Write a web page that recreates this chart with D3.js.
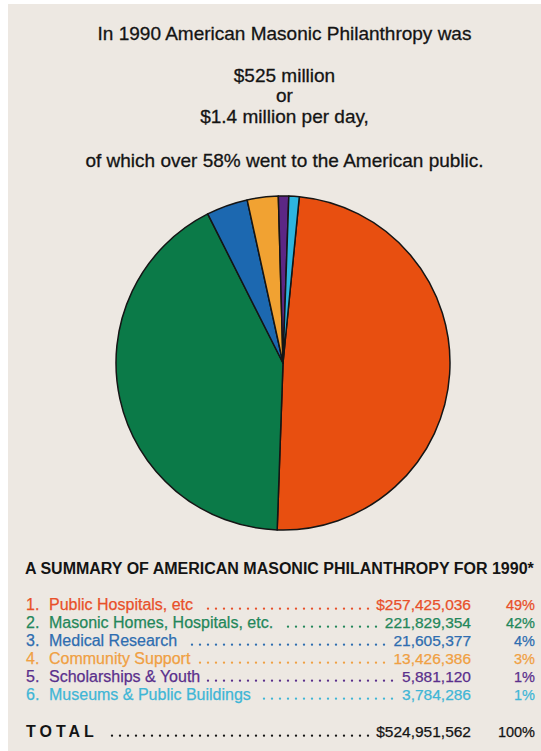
<!DOCTYPE html>
<html>
<head>
<meta charset="utf-8">
<script src="https://cdn.jsdelivr.net/npm/d3@7"></script>
<style>
  html, body { margin: 0; padding: 0; background: #fff; }
  svg { display: block; }
</style>
</head>
<body>
<svg id="chart" width="541" height="751"></svg>
<script>
// Categories of Masonic giving, 1990
const categories = [
  "Public Hospitals, etc",
  "Masonic Homes, Hospitals, etc.",
  "Medical Research",
  "Community Support",
  "Scholarships & Youth",
  "Museums & Public Buildings"
];
// Dollar amounts per category
const amounts = [257425036, 221829354, 21605377, 13426386, 5881120, 3784286];
// Share of the total, in percent (slices are sized from these)
const percents = [49, 42, 4, 3, 1, 1];
const totalAmount = 524951562;
const totalPercent = 100;

const headline = [
  "In 1990 American Masonic Philanthropy was",
  "$525 million",
  "or",
  "$1.4 million per day,",
  "of which over 58% went to the American public."
];
const summaryTitle = "A SUMMARY OF AMERICAN MASONIC PHILANTHROPY FOR 1990*";

const sliceColors = ["#e84f10", "#0b7a48", "#1c68b0", "#f1a232", "#5c2785", "#2db5de"];
const textColors  = ["#e8502a", "#23875a", "#2e6db0", "#f0a043", "#5a2f8c", "#3fb6d6"];

const W = 541, H = 751;
const svg = d3.select("#chart");
const FONT = "'Liberation Sans', Arial, Helvetica, sans-serif";

// paper background
svg.append("rect").attr("width", W).attr("height", H).attr("fill", "#ffffff");
svg.append("rect").attr("x", 8).attr("y", 4).attr("width", W - 8).attr("height", H - 4).attr("fill", "#ede8e2");

// headline block
const headY = [40, 82, 102, 123, 167];
svg.append("g")
  .selectAll("text")
  .data(headline)
  .join("text")
  .attr("x", 284.5)
  .attr("y", (d, i) => headY[i])
  .attr("text-anchor", "middle")
  .attr("font-family", FONT)
  .attr("font-size", 19)
  .attr("fill", "#141414")
  .attr("stroke", "#141414")
  .attr("stroke-width", 0.3)
  .text(d => d);

// pie
const cx = 283, cy = 363, R = 167;
const a0 = 5.6 * Math.PI / 180;
const pie = d3.pie()
  .sort(null)
  .value(d => d)
  .startAngle(a0)
  .endAngle(a0 + 2 * Math.PI);
const arc = d3.arc().innerRadius(0).outerRadius(R);

svg.append("g")
  .attr("transform", `translate(${cx},${cy})`)
  .selectAll("path")
  .data(pie(percents))
  .join("path")
  .attr("d", arc)
  .attr("fill", (d, i) => sliceColors[i])
  .attr("stroke", "#151515")
  .attr("stroke-width", 1.5)
  .attr("stroke-linejoin", "round");

// summary table
svg.append("text")
  .attr("x", 25)
  .attr("y", 574)
  .attr("font-family", FONT)
  .attr("font-weight", "bold")
  .attr("font-size", 16)
  .attr("fill", "#141414")
  .text(summaryTitle);

const xNum = 26, xLabel = 49, xAmount = 471, xPct = 535;
const rowY = d3.scaleLinear().domain([0, 1]).range([610, 628]);
const fmt = d3.format(",");
const dotStep = 8, dotOrigin = 0;

function leaders(g, x1, x2, y, color) {
  const start = Math.ceil((x1 - dotOrigin) / dotStep) * dotStep + dotOrigin;
  const xs = d3.range(start, x2, dotStep);
  g.selectAll(null)
    .data(xs)
    .join("circle")
    .attr("cx", d => d)
    .attr("cy", y - 1.3)
    .attr("r", 1.15)
    .attr("fill", color);
}

const table = svg.append("g").attr("font-family", FONT);

function rowText(g, x, y, size, color, anchor, str) {
  return g.append("text")
    .attr("x", x).attr("y", y)
    .attr("text-anchor", anchor)
    .attr("font-size", size)
    .attr("fill", color)
    .attr("stroke", color)
    .attr("stroke-width", 0.25)
    .text(str);
}

categories.forEach((name, i) => {
  const y = rowY(i);
  const color = textColors[i];
  const row = table.append("g");
  rowText(row, xNum, y, 16, color, "start", (i + 1) + ".");
  const label = rowText(row, xLabel, y, 16, color, "start", name);
  const amt = rowText(row, xAmount, y, 15.5, color, "end", (i === 0 ? "$" : "") + fmt(amounts[i]));
  rowText(row, xPct, y, 14.5, color, "end", percents[i] + "%");
  const labelEnd = xLabel + label.node().getComputedTextLength();
  const amtStart = xAmount - amt.node().getComputedTextLength();
  leaders(row, labelEnd + 7, amtStart - 5, y, color);
});

// total line
const yTot = 737;
const totRow = table.append("g");
const totLabel = totRow.append("text")
  .attr("x", xNum).attr("y", yTot)
  .attr("font-size", 16).attr("font-weight", "bold")
  .attr("letter-spacing", 4)
  .attr("fill", "#141414")
  .text("TOTAL");
const totAmt = rowText(totRow, xAmount, yTot, 15.5, "#141414", "end", "$" + fmt(totalAmount));
rowText(totRow, xPct, yTot, 14.5, "#141414", "end", totalPercent + "%");
leaders(totRow,
  xNum + totLabel.node().getComputedTextLength() + 8,
  xAmount - totAmt.node().getComputedTextLength() - 5,
  yTot, "#141414");
</script>
</body>
</html>
